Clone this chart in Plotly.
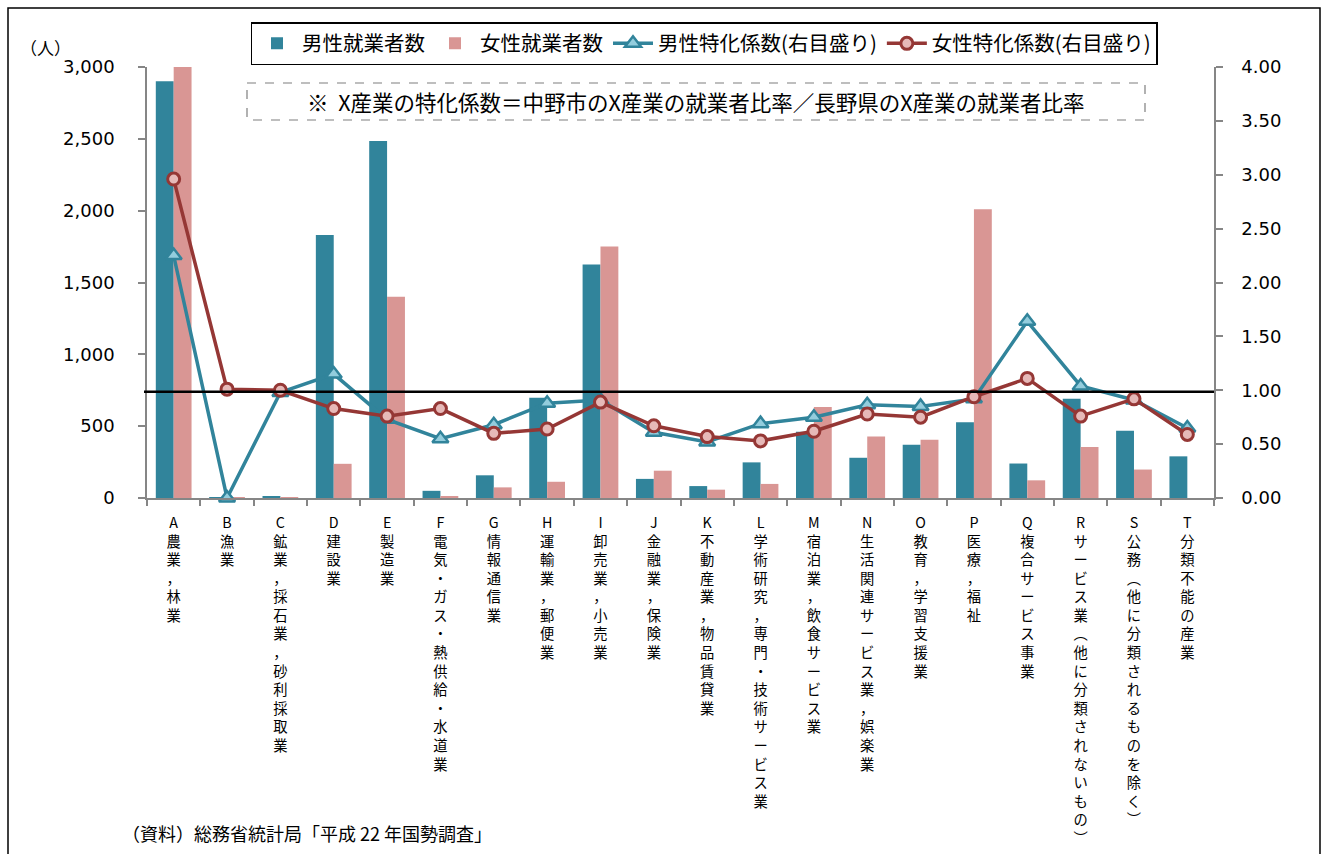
import plotly.graph_objects as go
from plotly.subplots import make_subplots

# ---------------- data ----------------
categories = [
    "A農業，林業",
    "B漁業",
    "C鉱業，採石業，砂利採取業",
    "D建設業",
    "E製造業",
    "F電気・ガス・熱供給・水道業",
    "G情報通信業",
    "H運輸業，郵便業",
    "I卸売業，小売業",
    "J金融業，保険業",
    "K不動産業，物品賃貸業",
    "L学術研究，専門・技術サービス業",
    "M宿泊業，飲食サービス業",
    "N生活関連サービス業，娯楽業",
    "O教育，学習支援業",
    "P医療，福祉",
    "Q複合サービス事業",
    "Rサービス業︵他に分類されないもの︶",
    "S公務︵他に分類されるものを除く︶",
    "T分類不能の産業",
]
male_workers = [2900, 2, 12, 1830, 2485, 50, 158, 698, 1625, 133,
                83, 248, 462, 280, 370, 527, 240, 690, 468, 290]
female_workers = [3010, 3, 3, 238, 1400, 8, 74, 113, 1750, 190,
                  58, 98, 634, 428, 405, 2010, 123, 355, 198, 0]
male_coef = [2.25, 0.00, 0.98, 1.15, 0.73, 0.55, 0.68, 0.88, 0.91, 0.61,
             0.52, 0.69, 0.75, 0.865, 0.85, 0.92, 1.64, 1.04, 0.91, 0.65]
female_coef = [2.96, 1.01, 1.00, 0.83, 0.76, 0.83, 0.60, 0.64, 0.89, 0.67,
               0.57, 0.53, 0.62, 0.78, 0.75, 0.94, 1.11, 0.76, 0.92, 0.59]
left_ticks = [0, 500, 1000, 1500, 2000, 2500, 3000]
right_ticks = [0.0, 0.5, 1.0, 1.5, 2.0, 2.5, 3.0, 3.5, 4.0]
reference_level = 0.985

legend_names = ["男性就業者数", "女性就業者数", "男性特化係数(右目盛り)", "女性特化係数(右目盛り)"]
note_text = "※  X産業の特化係数＝中野市のX産業の就業者比率／長野県のX産業の就業者比率"
source_text = "（資料）総務省統計局「平成 22 年国勢調査」"
unit_text = "（人）"

# ---------------- layout geometry ----------------
W, H = 1326, 854
L, R, T, B = 147, 112, 67, 356
PW, PH = W - L - R, H - T - B


def fx(px):
    return (px - L) / PW


def fy(py):
    return 1 - (py - T) / PH


CJK = "Noto Sans CJK JP"
NUM = "DejaVu Sans"

x_labels = ["<br>".join(list(c)) for c in categories]

fig = make_subplots(specs=[[{"secondary_y": True}]])

fig.add_trace(go.Bar(x=x_labels, y=male_workers, name=legend_names[0],
                     marker=dict(color="#31849B", line=dict(width=0))),
              secondary_y=False)
fig.add_trace(go.Bar(x=x_labels, y=female_workers, name=legend_names[1],
                     marker=dict(color="#D99694", line=dict(width=0))),
              secondary_y=False)
fig.add_trace(go.Scatter(x=x_labels, y=male_coef, name=legend_names[2],
                         mode="lines+markers",
                         line=dict(color="#31849B", width=3.5),
                         marker=dict(symbol="triangle-up", size=14, color="#93CDDD",
                                     line=dict(color="#31849B", width=2.5)),
                         cliponaxis=False),
              secondary_y=True)
fig.add_trace(go.Scatter(x=x_labels, y=female_coef, name=legend_names[3],
                         mode="lines+markers",
                         line=dict(color="#953735", width=3.5),
                         marker=dict(symbol="circle", size=12, color="#E6B9B8",
                                     line=dict(color="#953735", width=3)),
                         cliponaxis=False),
              secondary_y=True)

fig.update_layout(
    width=W, height=H,
    margin=dict(l=L, r=R, t=T, b=B, autoexpand=False),
    paper_bgcolor="white", plot_bgcolor="white",
    barmode="group", bargap=0.33, bargroupgap=0.0,
    font=dict(family=CJK, color="#000000"),
    legend=dict(orientation="h", x=fx(704), xanchor="center", y=fy(22), yanchor="top",
                bordercolor="#000000", borderwidth=1.5, bgcolor="white",
                font=dict(family=CJK, size=20.5), traceorder="normal",
                itemwidth=40),
    showlegend=True,
)

fig.update_xaxes(
    domain=[0, 1], range=[-0.5, len(categories) - 0.5],
    showgrid=False, showline=True, linecolor="#868686", linewidth=1.5,
    ticks="outside", ticklen=6, tickcolor="#868686", tickwidth=1.5,
    tickson="boundaries", tickangle=0,
    tickfont=dict(family=CJK, size=14.3, color="#000000"),
    ticklabelstandoff=11,
)
fig.update_yaxes(
    range=[0, 3000], tickvals=left_ticks, ticktext=[f"{v:,}" for v in left_ticks],
    showgrid=False, zeroline=False, showline=True, linecolor="#868686", linewidth=1.5,
    ticks="outside", ticklen=7, tickcolor="#868686", tickwidth=1.5,
    tickfont=dict(family=NUM, size=18, color="#000000"),
    ticklabelstandoff=20,
    secondary_y=False,
)
fig.update_yaxes(
    range=[0, 4], tickvals=right_ticks, ticktext=[f"{v:.2f}" for v in right_ticks],
    showgrid=False, zeroline=False, showline=True, linecolor="#868686", linewidth=1.5,
    ticks="outside", ticklen=7, tickcolor="#868686", tickwidth=1.5,
    tickfont=dict(family=NUM, size=18, color="#000000"),
    ticklabelstandoff=15,
    secondary_y=True,
)

# reference line at coefficient ~1
fig.add_shape(type="line", xref="paper", yref="y2", x0=fx(144), x1=1, y0=reference_level, y1=reference_level,
              line=dict(color="#000000", width=2.5), layer="above")

# dashed note box
fig.add_shape(type="rect", xref="paper", yref="paper",
              x0=fx(247), x1=fx(1145), y0=fy(83), y1=fy(120),
              line=dict(color="#7F7F7F", width=1.2, dash="dash"), fillcolor="white", layer="above")
fig.add_annotation(xref="paper", yref="paper", x=fx(696), y=fy(101.5), text=note_text,
                   showarrow=False, font=dict(family=CJK, size=21.5, color="#000000"),
                   xanchor="center", yanchor="middle")

# outer chart border
fig.add_shape(type="rect", xref="paper", yref="paper",
              x0=fx(8), x1=fx(1320), y0=fy(870), y1=fy(8),
              line=dict(color="#000000", width=1.5), layer="above")

# unit label
fig.add_annotation(xref="paper", yref="paper", x=fx(45), y=fy(48), text=unit_text,
                   showarrow=False, font=dict(family=CJK, size=17, color="#000000"),
                   xanchor="center", yanchor="middle")

# source
fig.add_annotation(xref="paper", yref="paper", x=fx(120), y=fy(833), text=source_text,
                   showarrow=False, font=dict(family=CJK, size=18, color="#000000"),
                   xanchor="left", yanchor="middle")

fig.write_html("out.html", config={"displayModeBar": False},
               post_script="document.body.style.margin='0';document.body.style.overflow='hidden';")
